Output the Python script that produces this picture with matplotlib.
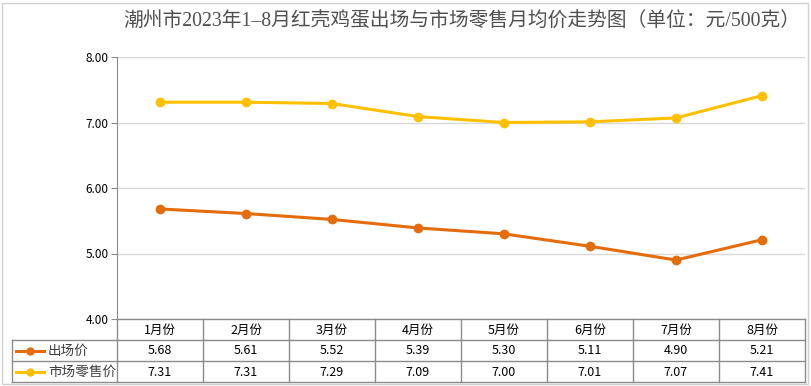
import matplotlib.pyplot as plt
from matplotlib.lines import Line2D
from matplotlib.patches import Rectangle

plt.rcParams['font.family'] = ['Noto Sans CJK SC', 'DejaVu Sans']

# 数据
months = ['1月份', '2月份', '3月份', '4月份', '5月份', '6月份', '7月份', '8月份']
farm_price = [5.68, 5.61, 5.52, 5.39, 5.30, 5.11, 4.90, 5.21]
retail_price = [7.31, 7.31, 7.29, 7.09, 7.00, 7.01, 7.07, 7.41]
series_names = ['出场价', '市场零售价']
title = '潮州市2023年1–8月红壳鸡蛋出场与市场零售月均价走势图（单位：元/500克）'

c_farm = '#E46C0A'
c_retail = '#FFC000'
c_border = '#8c8c8c'

W, H = 811, 386
fig = plt.figure(figsize=(W / 100, H / 100), dpi=100)
fig.patches.append(Rectangle((2 / W, 2 / H), (W - 5) / W, (H - 5) / H,
                             transform=fig.transFigure, fill=False,
                             edgecolor='#d0d0d0', linewidth=1))

# 折线区
x0, x1 = 117, 805
ytop, ybot = 57, 319
ax = fig.add_axes([x0 / W, (H - ybot) / H, (x1 - x0) / W, (ybot - ytop) / H])
xs = [i + 0.5 for i in range(len(months))]
ax.plot(xs, retail_price, color=c_retail, lw=2.2, marker='o', ms=6)
ax.plot(xs, farm_price, color=c_farm, lw=2.2, marker='o', ms=6)
ax.set_xlim(0, len(months))
ax.set_ylim(4, 8)
ax.set_yticks([4, 5, 6, 7, 8])
ax.set_yticklabels([f'{v:.2f}' for v in [4, 5, 6, 7, 8]], fontsize=8.5)
ax.set_xticks([])
ax.grid(axis='y', color='#d9d9d9', lw=1)
ax.set_axisbelow(True)
for s in ['top', 'right', 'bottom']:
    ax.spines[s].set_visible(False)
ax.spines['left'].set_color(c_border)
ax.tick_params(axis='y', length=4, color=c_border, pad=2)

fig.text(462 / W, 1 - 22 / H, title, ha='center', va='center',
         fontsize=14.2, color='#505050',
         family=['Liberation Serif', 'Noto Sans CJK SC'])

# 数据表
tl, tr, rows = 12, 805, [319, 340, 361, 382]
tax = fig.add_axes([tl / W, (H - 382) / H, (tr - tl) / W, (382 - 319) / H])
tax.set_xlim(tl, tr)
tax.set_ylim(382, 319)
tax.axis('off')
cw = (tr - x0) / len(months)
lk = dict(color=c_border, lw=1, clip_on=False)
tax.add_line(Line2D([x0, tr], [319, 319], **lk))
for y in rows[1:]:
    tax.add_line(Line2D([tl, tr], [y, y], **lk))
tax.add_line(Line2D([tl, tl], [340, 382], **lk))
for i in range(len(months) + 1):
    tax.add_line(Line2D([x0 + i * cw] * 2, [319, 382], **lk))

for i, m in enumerate(months):
    cx = x0 + (i + 0.5) * cw
    tax.text(cx, 330, m, ha='center', va='center', fontsize=9)
    tax.text(cx, 351, f'{farm_price[i]:.2f}', ha='center', va='center', fontsize=9)
    tax.text(cx, 372, f'{retail_price[i]:.2f}', ha='center', va='center', fontsize=9)

for y, name, c in [(351, series_names[0], c_farm), (372, series_names[1], c_retail)]:
    tax.add_line(Line2D([16, 44], [y, y], color=c, lw=2.2, clip_on=False))
    tax.add_line(Line2D([30], [y], color=c, marker='o', ms=5, clip_on=False))
    tax.text(48, y, name, ha='left', va='center', fontsize=9.8, color='#404040')

fig.savefig('out.png', dpi=100)
